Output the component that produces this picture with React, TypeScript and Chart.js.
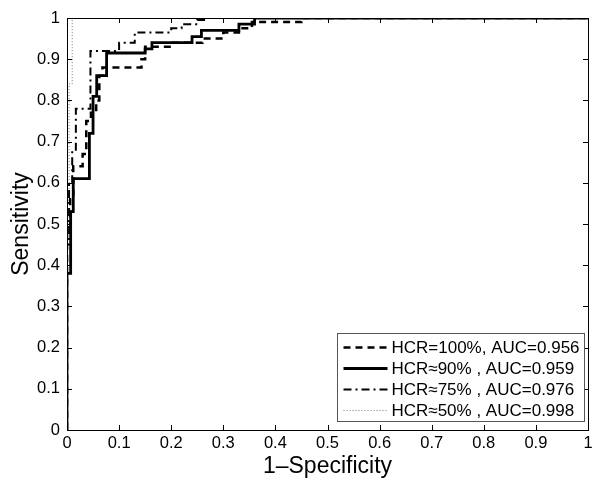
import { useEffect, useRef } from 'react';
import { Chart, registerables } from 'chart.js';

Chart.register(...registerables);

const FONT = '"Liberation Sans", Arial, Helvetica, sans-serif';

const xTickLabels = ['0', '0.1', '0.2', '0.3', '0.4', '0.5', '0.6', '0.7', '0.8', '0.9', '1'];
const yTickLabels = ['0', '0.1', '0.2', '0.3', '0.4', '0.5', '0.6', '0.7', '0.8', '0.9', '1'];

const xTitle = '1\u2013Specificity';
const yTitle = 'Sensitivity';

const seriesLabels = [
  'HCR=100%, AUC=0.956',
  'HCR\u224890% , AUC=0.959',
  'HCR\u224875% , AUC=0.976',
  'HCR\u224850% , AUC=0.998',
];

// HCR=100% (dashed)
const fpr100 = [0, 0, 0.006, 0.006, 0.012, 0.012, 0.03, 0.03, 0.037, 0.037, 0.046, 0.046, 0.056, 0.056, 0.062, 0.062, 0.068, 0.068, 0.143, 0.143, 0.15, 0.15, 0.2, 0.2, 0.26, 0.26, 0.3, 0.3, 0.33, 0.33, 0.355, 0.355, 0.45, 0.45, 1];
const tpr100 = [0, 0.48, 0.48, 0.56, 0.56, 0.64, 0.64, 0.67, 0.67, 0.75, 0.75, 0.77, 0.77, 0.8, 0.8, 0.86, 0.86, 0.88, 0.88, 0.9, 0.9, 0.93, 0.93, 0.94, 0.94, 0.95, 0.95, 0.965, 0.965, 0.975, 0.975, 0.99, 0.99, 1, 1];

// HCR≈90% (solid)
const fpr90 = [0, 0, 0.007, 0.007, 0.012, 0.012, 0.043, 0.043, 0.05, 0.05, 0.057, 0.057, 0.076, 0.076, 0.15, 0.15, 0.163, 0.163, 0.24, 0.24, 0.258, 0.258, 0.33, 0.33, 0.36, 0.36, 1];
const tpr90 = [0, 0.38, 0.38, 0.53, 0.53, 0.61, 0.61, 0.72, 0.72, 0.81, 0.81, 0.86, 0.86, 0.915, 0.915, 0.925, 0.925, 0.94, 0.94, 0.955, 0.955, 0.97, 0.97, 0.985, 0.985, 1, 1];

// HCR≈75% (dash-dot)
const fpr75 = [0, 0, 0.004, 0.004, 0.01, 0.01, 0.017, 0.017, 0.045, 0.045, 0.1, 0.1, 0.13, 0.13, 0.2, 0.2, 0.22, 0.22, 0.25, 0.25, 0.27, 0.27, 1];
const tpr75 = [0, 0.45, 0.45, 0.6, 0.6, 0.68, 0.68, 0.78, 0.78, 0.92, 0.92, 0.94, 0.94, 0.965, 0.965, 0.975, 0.975, 0.985, 0.985, 0.995, 0.995, 1, 1];

// HCR≈50% (dotted)
const fpr50 = [0, 0, 0.004, 0.004, 0.01, 0.01, 1];
const tpr50 = [0, 0.55, 0.55, 0.84, 0.84, 1, 1];

const toPoints = (xs: number[], ys: number[]) => xs.map((x, i) => ({ x, y: ys[i] }));

const frameAndLegend = {
  id: 'frameAndLegend',
  afterDatasetsDraw(chart: any) {
    const { ctx, chartArea, scales } = chart;
    const { left, right, top, bottom } = chartArea;
    ctx.save();
    // frame
    ctx.strokeStyle = '#000';
    ctx.lineWidth = 1;
    ctx.setLineDash([]);
    ctx.strokeRect(Math.round(left) + 0.5, Math.round(top) + 0.5, Math.round(right - left), Math.round(bottom - top));
    // inward ticks
    const tl = 5;
    ctx.beginPath();
    xTickLabels.forEach((_, i) => {
      const x = Math.round(scales.x.getPixelForValue(i / 10)) + 0.5;
      ctx.moveTo(x, bottom); ctx.lineTo(x, bottom - tl);
      ctx.moveTo(x, top); ctx.lineTo(x, top + tl);
    });
    yTickLabels.forEach((_, i) => {
      const y = Math.round(scales.y.getPixelForValue(i / 10)) + 0.5;
      ctx.moveTo(left, y); ctx.lineTo(left + tl, y);
      ctx.moveTo(right, y); ctx.lineTo(right - tl, y);
    });
    ctx.stroke();

    // legend
    const bw = 247, bh = 88;
    const bx = Math.round(right - 4 - bw) + 0.5;
    const by = Math.round(bottom - 9 - bh) + 0.5;
    ctx.fillStyle = '#fff';
    ctx.fillRect(bx, by, bw, bh);
    ctx.strokeStyle = '#555';
    ctx.lineWidth = 1;
    ctx.strokeRect(bx, by, bw, bh);
    ctx.font = `17px ${FONT}`;
    ctx.textBaseline = 'middle';
    ctx.textAlign = 'left';
    chart.data.datasets.forEach((ds: any, i: number) => {
      const cy = by + 14 + i * 21;
      ctx.save();
      ctx.strokeStyle = ds.borderColor;
      ctx.lineWidth = ds.borderWidth;
      ctx.setLineDash(ds.borderDash || []);
      ctx.beginPath();
      ctx.moveTo(bx + 6, cy);
      ctx.lineTo(bx + 50, cy);
      ctx.stroke();
      ctx.restore();
      ctx.fillStyle = '#000';
      ctx.fillText(ds.label, bx + 54, cy + 1);
    });
    ctx.restore();
  },
};

export default function App() {
  const canvasRef = useRef<HTMLCanvasElement | null>(null);

  useEffect(() => {
    if (!canvasRef.current) return;
    const chart = new Chart(canvasRef.current, {
      type: 'line',
      data: {
        datasets: [
          {
            label: seriesLabels[0],
            data: toPoints(fpr100, tpr100),
            borderColor: '#000',
            borderWidth: 2.5,
            borderDash: [7, 5],
            pointRadius: 0,
            fill: false,
          },
          {
            label: seriesLabels[1],
            data: toPoints(fpr90, tpr90),
            borderColor: '#000',
            borderWidth: 2.8,
            borderDash: [],
            pointRadius: 0,
            fill: false,
          },
          {
            label: seriesLabels[2],
            data: toPoints(fpr75, tpr75),
            borderColor: '#000',
            borderWidth: 2,
            borderDash: [8, 4, 2, 4],
            pointRadius: 0,
            fill: false,
          },
          {
            label: seriesLabels[3],
            data: toPoints(fpr50, tpr50),
            borderColor: '#777',
            borderWidth: 1,
            borderDash: [1, 2],
            pointRadius: 0,
            fill: false,
          },
        ],
      },
      options: {
        animation: false,
        responsive: false,
        maintainAspectRatio: false,
        devicePixelRatio: 1,
        layout: { padding: { top: 18, right: 16, left: 0, bottom: 0 } },
        plugins: {
          legend: { display: false },
          title: { display: false },
          tooltip: { enabled: false },
        },
        elements: { line: { tension: 0, borderCapStyle: 'butt', borderJoinStyle: 'miter' } },
        scales: {
          x: {
            type: 'linear',
            min: 0,
            max: 1,
            grid: { display: false, drawTicks: false },
            border: { display: false },
            ticks: {
              stepSize: 0.1,
              color: '#000',
              padding: 4,
              maxRotation: 0,
              font: { family: FONT, size: 16.5 },
              callback: (_v: any, i: number) => xTickLabels[i],
            },
            title: {
              display: true,
              text: xTitle,
              color: '#000',
              font: { family: FONT, size: 23 },
              padding: { top: 0, bottom: 11 },
            },
            afterFit: (s: any) => { s.height = 61; },
          },
          y: {
            type: 'linear',
            min: 0,
            max: 1,
            grid: { display: false, drawTicks: false },
            border: { display: false },
            ticks: {
              stepSize: 0.1,
              color: '#000',
              padding: 7,
              font: { family: FONT, size: 16.5 },
              callback: (_v: any, i: number) => yTickLabels[i],
            },
            title: {
              display: true,
              text: yTitle,
              color: '#000',
              font: { family: FONT, size: 23 },
              padding: { top: 8, bottom: 0 },
            },
            afterFit: (s: any) => { s.width = 67; },
          },
        },
      },
      plugins: [frameAndLegend],
    });
    return () => chart.destroy();
  }, []);

  return (
    <div style={{ position: 'absolute', left: 0, top: 0, width: 604, height: 491, background: '#fff' }}>
      <canvas ref={canvasRef} width={604} height={491} style={{ display: 'block', width: 604, height: 491 }} />
    </div>
  );
}
